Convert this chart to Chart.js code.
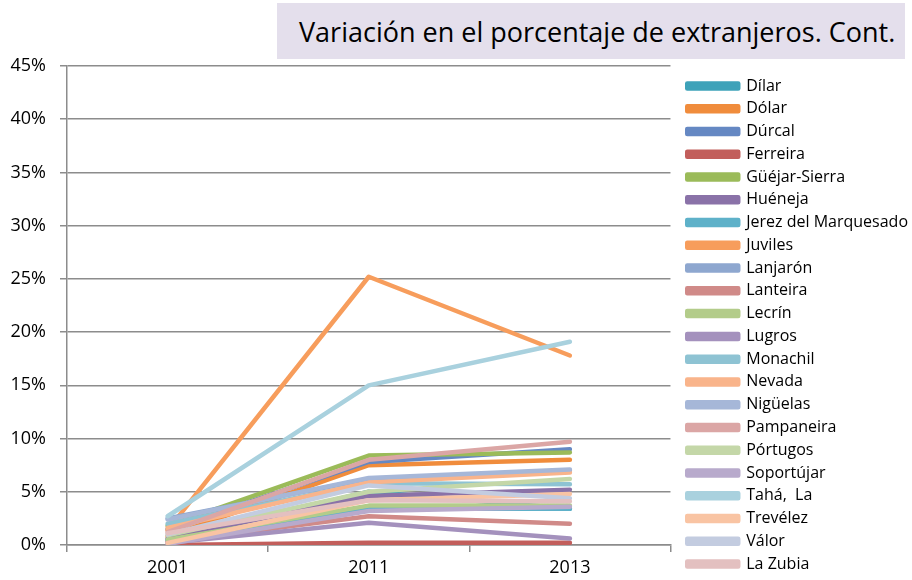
<!DOCTYPE html>
<html>
<head>
<meta charset="utf-8">
<script src="https://cdn.jsdelivr.net/npm/chart.js@4.4.1/dist/chart.umd.min.js"></script>
<style>
  body { margin: 0; background: #fff; }
  #wrap { position: relative; width: 912px; height: 580px; overflow: hidden; }
  #title {
    position: absolute; left: 277px; top: 3px; width: 628px; height: 56px;
    background: #e4dfec; font-family: 'Open Sans', sans-serif; font-size: 27px;
    line-height: 58px; padding-left: 22px; box-sizing: border-box; color: #000;
    white-space: nowrap;
  }
</style>
</head>
<body>
<div id="wrap">
  <canvas id="myChart" width="912" height="580"></canvas>
  <div id="title">Variación en el porcentaje de extranjeros. Cont.</div>
</div>
<script>
// years on the x axis
const years = ["2001", "2011", "2013"];

// municipalities (legend order)
const names = [
  "Dílar", "Dólar", "Dúrcal", "Ferreira", "Güéjar-Sierra", "Huéneja",
  "Jerez del Marquesado", "Juviles", "Lanjarón", "Lanteira", "Lecrín",
  "Lugros", "Monachil", "Nevada", "Nigüelas", "Pampaneira", "Pórtugos",
  "Soportújar", "Tahá,  La", "Trevélez", "Válor", "La Zubia"
];

// % of foreigners, per municipality, for 2001 / 2011 / 2013
const dilar      = [0.5, 5.0, 3.4];
const dolar      = [0.8, 7.5, 8.0];
const durcal     = [1.5, 7.8, 9.0];
const ferreira   = [0.0, 0.2, 0.2];
const guejar     = [1.8, 8.4, 8.7];
const hueneja    = [0.6, 4.6, 5.2];
const jerez      = [0.4, 3.4, 3.4];
const juviles    = [1.4, 25.2, 17.8];
const lanjaron   = [2.5, 6.2, 7.0];
const lanteira   = [0.3, 2.7, 2.0];
const lecrin     = [0.5, 3.7, 3.7];
const lugros     = [0.2, 2.1, 0.6];
const monachil   = [2.0, 5.8, 5.7];
const nevada     = [1.6, 5.9, 6.8];
const niguelas   = [2.4, 6.3, 7.1];
const pampaneira = [1.2, 8.0, 9.7];
const portugos   = [0.9, 5.0, 6.2];
const soportujar = [0.1, 3.2, 3.6];
const taha       = [2.7, 15.0, 19.1];
const trevelez   = [0.2, 4.2, 4.8];
const valor      = [1.0, 5.6, 4.4];
const zubia      = [1.1, 4.2, 4.1];

const values = [dilar, dolar, durcal, ferreira, guejar, hueneja, jerez, juviles,
  lanjaron, lanteira, lecrin, lugros, monachil, nevada, niguelas, pampaneira,
  portugos, soportujar, taha, trevelez, valor, zubia];

const colors = [
  "#3ea2b9", "#f08c3c", "#6588c3", "#c25e5b", "#9bbb59", "#8a72a8",
  "#5eb1c9", "#f79d5c", "#8ea7cf", "#d08a88", "#b3cc8a", "#a491bd",
  "#8ec3d3", "#f9b48b", "#a6b7d8", "#dba6a5", "#c4d7a8", "#b8aacc",
  "#a9d1de", "#f9c4a3", "#c3cce0", "#e3c0c0"
];

const gridColor = "#8c8c8c";

Chart.defaults.font.family = "'Open Sans', sans-serif";
Chart.defaults.font.size = 18;
Chart.defaults.color = "#000";

const datasets = names.map((name, i) => ({
  label: name,
  data: values[i],
  borderColor: colors[i],
  backgroundColor: colors[i],
  borderWidth: 4.5,
  borderCapStyle: "round",
  borderJoinStyle: "round",
  pointRadius: 0,
  tension: 0,
  order: names.length - i, // later series on top, like the original
}));

const chart = new Chart(document.getElementById("myChart"), {
  type: "line",
  data: { labels: years, datasets: datasets },
  options: {
    responsive: false,
    animation: false,
    layout: { padding: { top: 66, left: 0, right: -6, bottom: -4 } },
    plugins: {
      title: { display: false },
      tooltip: { enabled: false },
      legend: {
        position: "right",
        maxWidth: 260,
        labels: {
          boxWidth: 51,
          boxHeight: 5,
          padding: 6.76,
          font: { size: 16 },
          sort: (a, b) => a.datasetIndex - b.datasetIndex,
        },
      },
    },
    scales: {
      x: {
        offset: true,
        grid: { drawOnChartArea: false, offset: true, tickLength: 7, color: gridColor, lineWidth: 1.5 },
        border: { color: gridColor, width: 1.5 },
        ticks: { padding: 5 },
        afterFit: (scale) => { scale.height = 39; },
      },
      y: {
        min: 0,
        max: 45,
        ticks: { stepSize: 5, padding: 14, callback: (v) => v + "%" },
        grid: { color: gridColor, lineWidth: 1.5, tickLength: 7 },
        border: { color: gridColor, width: 1.5 },
        afterFit: (scale) => { scale.width = 67; },
      },
      gap: {
        position: "right",
        display: true,
        ticks: { display: false },
        grid: { display: false },
        border: { display: false },
        afterFit: (scale) => { scale.width = 10; },
      },
    },
  },
});
</script>
</body>
</html>
